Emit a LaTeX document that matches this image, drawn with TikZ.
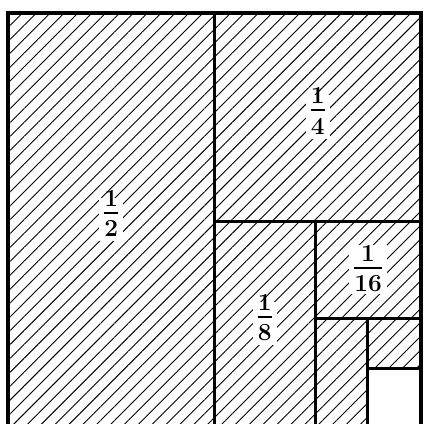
\documentclass[tikz,border=0pt]{standalone}
\usepackage{amsmath}
\usepackage{tikz}
\usetikzlibrary{patterns.meta}
\newcommand{\partfrac}[2]{$\genfrac{}{}{1pt}{0}{\raisebox{-3.4pt}[0pt][0pt]{#1}}{\raisebox{1.2pt}[0pt][0pt]{#2}}$}
\tikzset{
  region/.style={draw=black, line width=1.6pt,
    pattern={Lines[angle=45,distance=0.19cm,line width=0.5pt]}},
  outline/.style={draw=black, line width=2.2pt},
  fraclbl/.style={fill=white, inner xsep=1.5pt, inner ysep=0pt, minimum height=0.85cm,
    font=\fontsize{13.5}{16}\selectfont\bfseries\boldmath},
}
\begin{document}
\begin{tikzpicture}
  \clip (-0.155,0.039) rectangle (8.039,8.252);
  \fill[white] (-0.155,0.039) rectangle (8.039,8.252);

  % halving the square, again and again
  \draw[region] (0,0) rectangle (4,8);
  \draw[region] (4,3.97) rectangle (8,8);
  \draw[region] (4,0) rectangle (5.95,3.97);
  \draw[region] (5.95,2.09) rectangle (8,3.97);
  \draw[region] (5.95,0) rectangle (6.97,2.09);
  \draw[region] (6.97,1.12) rectangle (8,2.09);
  \draw[line width=1.6pt] (6.97,0) -- (6.97,1.12) -- (8,1.12);

  \draw[outline] (0,0) -- (0,8) -- (8,8) -- (8,0);

  \node[fraclbl] (half) at (2,4) {\partfrac{1}{2}};
  \node[fraclbl] (quarter) at (6,5.99) {\partfrac{1}{4}};
  \node[fraclbl] (eighth) at (4.975,1.985) {\partfrac{1}{8}};
  \node[fraclbl] (sixteenth) at (6.975,3.03) {\partfrac{1}{16}};
\end{tikzpicture}
\end{document}
